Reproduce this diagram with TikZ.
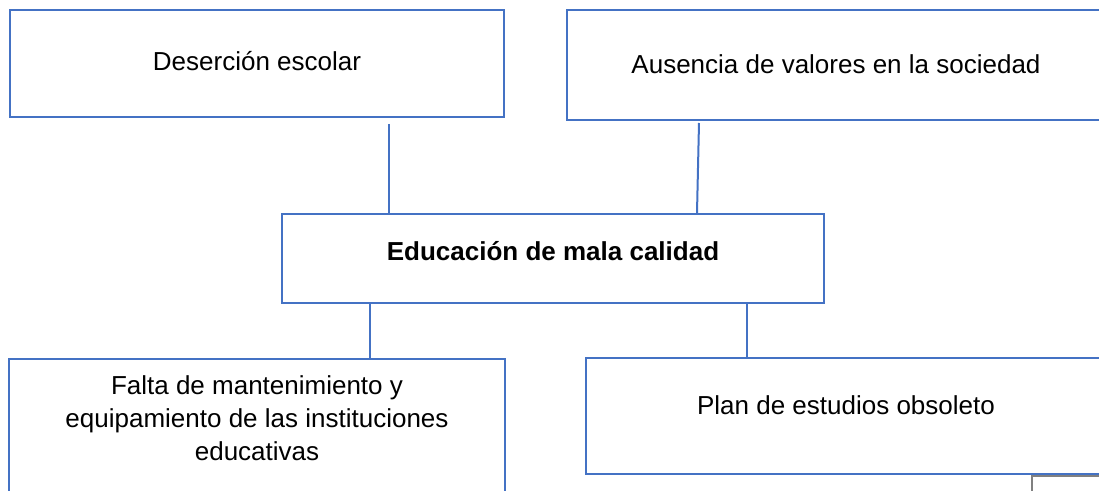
\documentclass[tikz,border=0pt]{standalone}
\usepackage{fontspec}
\setmainfont{Liberation Sans}
\definecolor{wordblue}{HTML}{4472C4}
\begin{document}
\begin{tikzpicture}[
  x=0.5pt,y=-0.5pt,
  box/.style={draw=wordblue,line width=1pt,inner sep=0pt,text=black,font=\fontsize{13}{16.5}\selectfont},
  link/.style={draw=wordblue,line width=1pt},
]
\useasboundingbox (0,0) rectangle (1099,491);
\node[box,minimum width=247pt,text height=30.5pt,text depth=23pt] (des) at (257,63.5) {Deserción escolar};
\node[box,minimum width=269pt,text height=32pt,text depth=23pt] (aus) at (836,65) {Ausencia de valores en la sociedad};
\node[box,minimum width=271pt,text height=23.5pt,text depth=21pt] (edu) at (553,258.5) {\textbf{Educación de mala calidad}};
\node[box,minimum width=248pt,text height=18pt,text depth=62.5pt] (fal) at (257,439.5)
  {\begin{tabular}[t]{@{}c@{}}Falta de mantenimiento y\\equipamiento de las instituciones\\educativas\end{tabular}};
\node[box,minimum width=260pt,text height=28.5pt,text depth=29.5pt] (pla) at (846,416) {Plan de estudios obsoleto};
\draw[link] ([xshift=66pt,yshift=-3pt]des.south) -- ([xshift=66pt]des.south |- edu.north);
\draw[link] ([xshift=-68.5pt,yshift=-1pt]aus.south) -- ([xshift=-69.5pt]aus.south |- edu.north);
\draw[link] ([xshift=-91.5pt]edu.south) -- ([xshift=-91.5pt]edu.south |- fal.north);
\draw[link] ([xshift=97pt]edu.south) -- ([xshift=97pt]edu.south |- pla.north);
\draw[black!50,line width=1pt] (1032,476) rectangle (1140,540);
\end{tikzpicture}
\end{document}
